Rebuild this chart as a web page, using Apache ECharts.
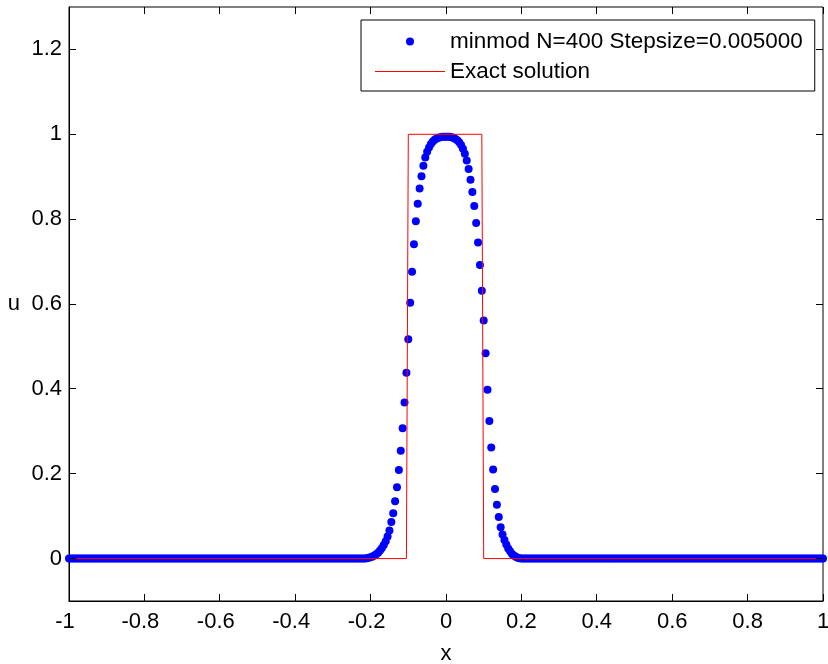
<!DOCTYPE html>
<html><head><meta charset="utf-8">
<script src="https://cdn.jsdelivr.net/npm/echarts@6/dist/echarts.min.js"></script>
<style>html,body{margin:0;padding:0;background:#fff}#c{width:828px;height:664px}</style>
</head><body><div id="c"></div>
<script>
// ---- data ----
const xMin = -1, xMax = 1, xStep = 0.005;          // grid of the numerical solution
const yMin = -0.1, yMax = 1.3;
const xTicks = [-1, -0.8, -0.6, -0.4, -0.2, 0, 0.2, 0.4, 0.6, 0.8, 1];
const yTicks = [0, 0.2, 0.4, 0.6, 0.8, 1, 1.2];
const seriesNames = ['minmod N=400 Stepsize=0.005000', 'Exact solution'];
// numerical solution: zero for x in [-1,-0.22], bump for x in [-0.215,0.2], zero for x in [0.205,1]
const leftZeroCount = 157;
const bumpValues = [
  0, 0.001, 0.002, 0.003, 0.005, 0.007, 0.010, 0.014, 0.019, 0.025, 0.032, 0.041, 0.052, 0.066,
  0.086, 0.107, 0.135, 0.168, 0.209, 0.254, 0.307, 0.368, 0.438, 0.517,
  0.603, 0.676, 0.741, 0.795, 0.836, 0.872, 0.901, 0.926, 0.945, 0.959,
  0.969, 0.977, 0.983, 0.987, 0.990, 0.992, 0.993, 0.994, 0.994, 0.994,
  0.994, 0.994, 0.993, 0.991, 0.989, 0.986, 0.981, 0.975, 0.966, 0.954,
  0.938, 0.918, 0.893, 0.864, 0.831, 0.791, 0.745, 0.692, 0.631, 0.561,
  0.484, 0.398, 0.324, 0.262, 0.210, 0.164, 0.127, 0.098, 0.074, 0.057,
  0.044, 0.033, 0.024, 0.017, 0.011, 0.007, 0.004, 0.002, 0.001, 0
];
const rightZeroCount = 160;
// exact solution (square pulse sampled on grid)
const exactX = [-1, -0.105, -0.1, 0.095, 0.1, 1];
const exactY = [0, 0, 1, 1, 0, 0];

// ---- build ----
const numY = [].concat(new Array(leftZeroCount).fill(0), bumpValues, new Array(rightZeroCount).fill(0));
const numData = numY.map((v, i) => [+(xMin + i * xStep).toFixed(4), v]);
const exactData = exactX.map((x, i) => [x, exactY[i]]);
// inward tick marks on all four sides (side: 0 bottom, 1 top, 2 left, 3 right)
const tickData = [];
xTicks.forEach(v => { tickData.push([v, 0]); tickData.push([v, 1]); });
yTicks.forEach(v => { tickData.push([v, 2]); tickData.push([v, 3]); });

const FONT = 'Liberation Sans, Arial, Helvetica, sans-serif';
const FS = 22;
const black = '#000';
const TICK = 7;
const fmtX = v => { const s = String(+v.toFixed(4)); return v < 0 ? '{n|' + s + '}' : s; };
const fmtY = v => String(+v.toFixed(4));

function renderTick(params, api) {
  const v = api.value(0), side = api.value(1);
  if (side === 0 || side === 1) {
    const p = api.coord([v, side === 0 ? yMin : yMax]);
    const x = Math.round(p[0] - 0.5);
    const y = side === 0 ? p[1] - TICK : p[1];
    return { type: 'rect', shape: { x: x, y: y, width: 1, height: TICK }, style: { fill: black } };
  }
  const p = api.coord([side === 2 ? xMin : xMax, v]);
  const y = Math.round(p[1] - 0.5);
  const x = side === 2 ? p[0] : p[0] - TICK;
  return { type: 'rect', shape: { x: x, y: y, width: TICK, height: 1 }, style: { fill: black } };
}

const chart = echarts.init(document.getElementById('c'));
chart.setOption({
  animation: false,
  grid: { left: 69, right: 5, top: 7, bottom: 63, containLabel: false, outerBoundsMode: 'none',
          show: true, borderColor: black, borderWidth: 1, backgroundColor: 'transparent' },
  xAxis: {
    type: 'value', min: xMin, max: xMax, interval: 0.2, splitLine: { show: false },
    name: 'x', nameLocation: 'middle', nameGap: 42,
    nameTextStyle: { fontFamily: FONT, fontSize: FS, color: black },
    axisLine: { show: true, onZero: false, lineStyle: { color: black, width: 1 } },
    axisTick: { show: false },
    axisLabel: { show: true, margin: 10, fontFamily: FONT, fontSize: FS, color: black, formatter: fmtX,
                 customValues: xTicks, rich: { n: { fontFamily: FONT, fontSize: FS, color: black, padding: [0, 8, 0, 0] } } }
  },
  yAxis: {
    type: 'value', min: yMin, max: yMax, splitLine: { show: false },
    name: 'u', nameLocation: 'middle', nameGap: 49, nameRotate: 0,
    nameTextStyle: { fontFamily: FONT, fontSize: FS, color: black },
    axisLine: { show: true, onZero: false, lineStyle: { color: black, width: 1 } },
    axisTick: { show: false },
    axisLabel: { show: true, margin: 7, fontFamily: FONT, fontSize: FS, color: black, formatter: fmtY,
                 customValues: yTicks }
  },
  legend: {
    orient: 'vertical', left: 361, top: 20,
    padding: [10, 12, 8, 14], itemGap: 7,
    itemWidth: 70, itemHeight: 8,
    backgroundColor: '#fff', borderColor: black, borderWidth: 1, borderRadius: 0,
    textStyle: { fontFamily: FONT, fontSize: 22.5, color: black },
    data: [
      { name: seriesNames[0], icon: 'circle', itemStyle: { color: '#0000ff', opacity: 1 } },
      { name: seriesNames[1], icon: 'path://M0,0 H70 V1 H0 Z', itemStyle: { color: '#ff0000' } }
    ]
  },
  series: [
    {
      name: seriesNames[0], type: 'scatter', data: numData,
      symbol: 'circle', symbolSize: 8,
      itemStyle: { color: '#0000ff', opacity: 1 }
    },
    {
      name: seriesNames[1], type: 'line', data: exactData,
      symbol: 'none', lineStyle: { color: '#ff0000', width: 1 },
      itemStyle: { color: '#ff0000' }
    },
    { type: 'custom', data: tickData, renderItem: renderTick, clip: false, z: 10 }
  ]
});
// a second pass forces a full redraw
setTimeout(() => { chart.setOption({ title: { show: false, text: '' } }); }, 50);
</script>
</body></html>
